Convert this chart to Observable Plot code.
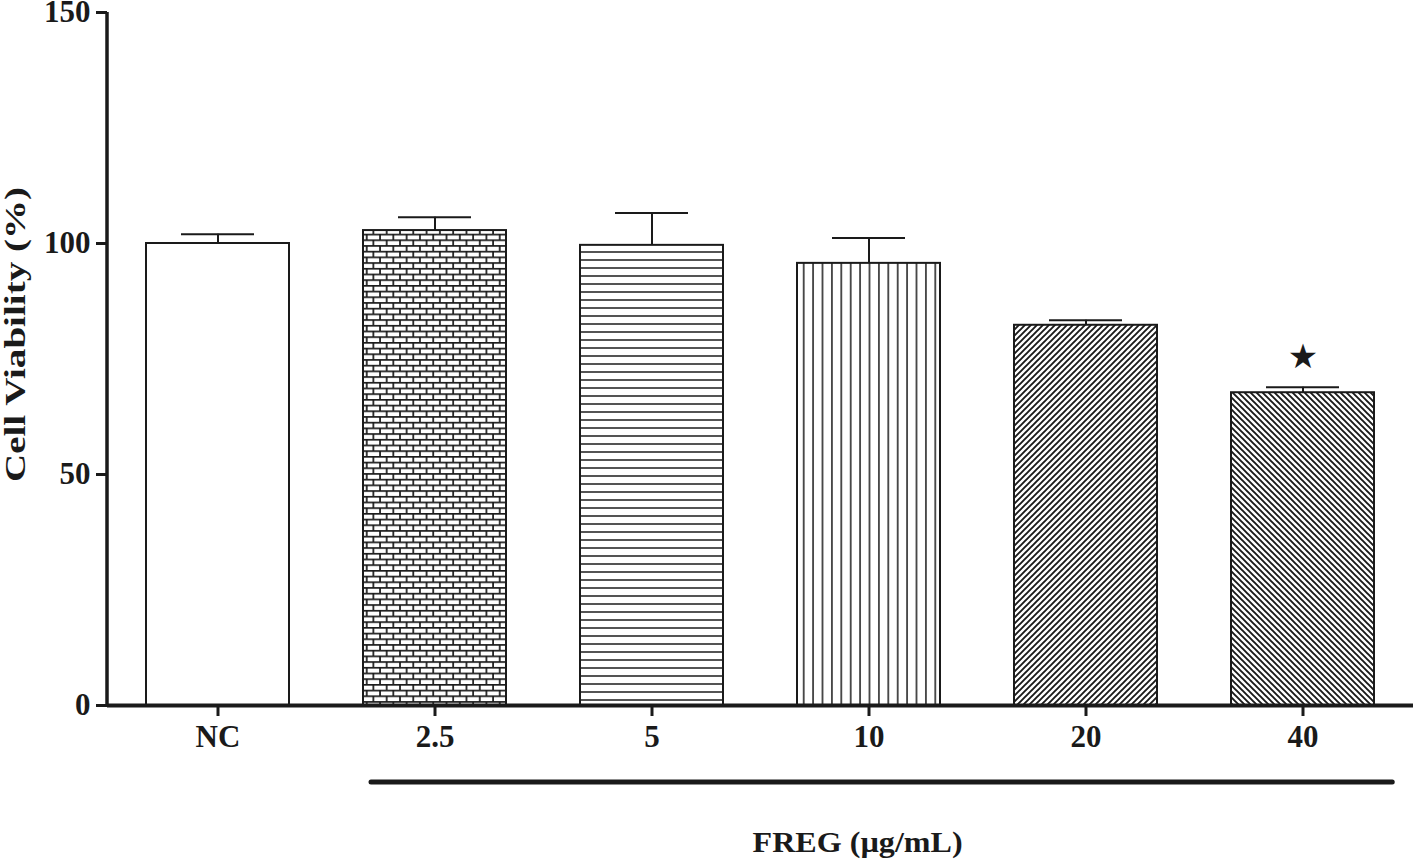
<!DOCTYPE html>
<html>
<head>
<meta charset="utf-8">
<script src="https://cdn.jsdelivr.net/npm/d3@7"></script>
<script src="https://cdn.jsdelivr.net/npm/@observablehq/plot@0.6"></script>
<style>
  html, body { margin: 0; padding: 0; background: #fff; }
  #chart svg { display: block; }
</style>
</head>
<body>
<div id="chart"></div>
<script>
// ---- data ----
const categories = ["NC", "2.5", "5", "10", "20", "40"];
const meanValues = [100, 102.8, 99.6, 95.7, 82.3, 67.7];
const sdValues = [2.0, 2.9, 7.0, 5.5, 1.1, 1.2];
const significance = ["", "", "", "", "", "★"];
const yTicks = [0, 50, 100, 150];
const yTitle = "Cell Viability (%)";
const xTitle = "FREG (µg/mL)";
const bracketFrom = "2.5";
const bracketTo = "40";

// ---- styles (separate from data) ----
const patternFill = {
  "NC": "white",
  "2.5": "url(#pat-brick)",
  "5": "url(#pat-hlines)",
  "10": "url(#pat-vlines)",
  "20": "url(#pat-diagup)",
  "40": "url(#pat-diagdown)"
};
const ink = "#1a1a1a";
const font = "'Liberation Serif', 'Times New Roman', serif";

const rows = categories.map((c, i) => ({
  cat: c,
  mean: meanValues[i],
  upper: meanValues[i] + sdValues[i],
  sig: significance[i],
  fill: patternFill[c]
}));

const padInner = 0.34;

function decorations(index, scales, values, dims) {
  const g = d3.create("svg:g");
  // pattern definitions
  const defs = g.append("defs");
  const brick = defs.append("pattern").attr("id", "pat-brick").attr("patternUnits", "userSpaceOnUse")
    .attr("width", 13.3).attr("height", 11.4);
  brick.append("rect").attr("width", 13.3).attr("height", 11.4).attr("fill", "white");
  brick.append("path").attr("d", "M0,0.8H13.3M0,6.5H13.3M1,0.8V6.5M7.65,6.5V12.2")
    .attr("stroke", ink).attr("stroke-width", 1.7).attr("fill", "none");
  const hl = defs.append("pattern").attr("id", "pat-hlines").attr("patternUnits", "userSpaceOnUse")
    .attr("width", 10).attr("height", 8);
  hl.append("rect").attr("width", 10).attr("height", 8).attr("fill", "white");
  hl.append("path").attr("d", "M0,4H10").attr("stroke", ink).attr("stroke-width", 1.5);
  const vl = defs.append("pattern").attr("id", "pat-vlines").attr("patternUnits", "userSpaceOnUse")
    .attr("width", 9.4).attr("height", 10);
  vl.append("rect").attr("width", 9.4).attr("height", 10).attr("fill", "white");
  vl.append("path").attr("d", "M4.7,0V10").attr("stroke", ink).attr("stroke-width", 1.5);
  const du = defs.append("pattern").attr("id", "pat-diagup").attr("patternUnits", "userSpaceOnUse")
    .attr("width", 6).attr("height", 6);
  du.append("rect").attr("width", 6).attr("height", 6).attr("fill", "white");
  du.append("path").attr("d", "M-1,7L7,-1M-4,4L4,-4M2,10L10,2")
    .attr("stroke", ink).attr("stroke-width", 1.9);
  const dd = defs.append("pattern").attr("id", "pat-diagdown").attr("patternUnits", "userSpaceOnUse")
    .attr("width", 6).attr("height", 6);
  dd.append("rect").attr("width", 6).attr("height", 6).attr("fill", "white");
  dd.append("path").attr("d", "M-1,-1L7,7M-4,2L4,10M2,-4L10,4")
    .attr("stroke", ink).attr("stroke-width", 1.9);

  const {height, marginLeft, marginTop, marginBottom} = dims;
  const x = scales.x;
  const n = categories.length;
  const step = x(categories[n - 1]) - x(categories[n - 2]);
  const bw = step * (1 - padInner);
  const baseY = height - marginBottom;

  // y axis line
  g.append("line")
    .attr("x1", marginLeft).attr("x2", marginLeft)
    .attr("y1", marginTop).attr("y2", baseY + 1.5)
    .attr("stroke", ink).attr("stroke-width", 3.5);

  // bracket line under the treated groups
  const bx1 = x(bracketFrom) + 8;
  const bx2 = x(bracketTo) + bw + 18;
  g.append("line")
    .attr("x1", bx1).attr("x2", bx2)
    .attr("y1", baseY + 77).attr("y2", baseY + 77)
    .attr("stroke", ink).attr("stroke-width", 5).attr("stroke-linecap", "round");

  // x title
  g.append("text")
    .attr("x", (x(bracketFrom) + x(bracketTo) + bw) / 2 - 11)
    .attr("y", baseY + 147)
    .attr("text-anchor", "middle")
    .attr("font-family", font).attr("font-weight", "bold").attr("font-size", 30)
    .attr("fill", ink)
    .attr("textLength", 210).attr("lengthAdjust", "spacingAndGlyphs")
    .text(xTitle);

  // y title
  g.append("text")
    .attr("transform", `translate(${marginLeft - 82},${(marginTop + baseY) / 2 - 24}) rotate(-90)`)
    .attr("text-anchor", "middle")
    .attr("font-family", font).attr("font-weight", "bold").attr("font-size", 29)
    .attr("fill", ink)
    .attr("textLength", 295).attr("lengthAdjust", "spacingAndGlyphs")
    .text(yTitle);
  return g.node();
}

const chart = Plot.plot({
  width: 1416,
  height: 861,
  marginLeft: 107,
  marginRight: 3,
  marginTop: 12,
  marginBottom: 156,
  style: {fontFamily: font, color: ink, background: "white"},
  x: {domain: categories, paddingInner: padInner, paddingOuter: padInner / 2, axis: null},
  y: {domain: [0, 150], axis: null},
  color: {type: "identity"},
  marks: [
    decorations,
    Plot.axisY({ticks: yTicks, tickSize: 11, tickPadding: 6, strokeWidth: 3, fontSize: 31, fontWeight: "bold", label: null}),
    Plot.axisX({tickSize: 11, tickPadding: 8, strokeWidth: 3, fontSize: 31, fontWeight: "bold", label: null}),
    Plot.ruleX(rows, {x: "cat", y1: "mean", y2: "upper", stroke: ink, strokeWidth: 2}),
    Plot.tickY(rows, {x: "cat", y: "upper", stroke: ink, strokeWidth: 2, insetLeft: 35, insetRight: 35}),
    Plot.barY(rows, {x: "cat", y: "mean", fill: "fill", stroke: ink, strokeWidth: 2}),
    Plot.text(rows, {x: "cat", y: "upper", text: "sig", dy: -30, fontSize: 34, fill: ink, fontFamily: "DejaVu Sans"}),
    Plot.ruleY([0], {stroke: ink, strokeWidth: 4})
  ]
});
document.getElementById("chart").appendChild(chart);
</script>
</body>
</html>
